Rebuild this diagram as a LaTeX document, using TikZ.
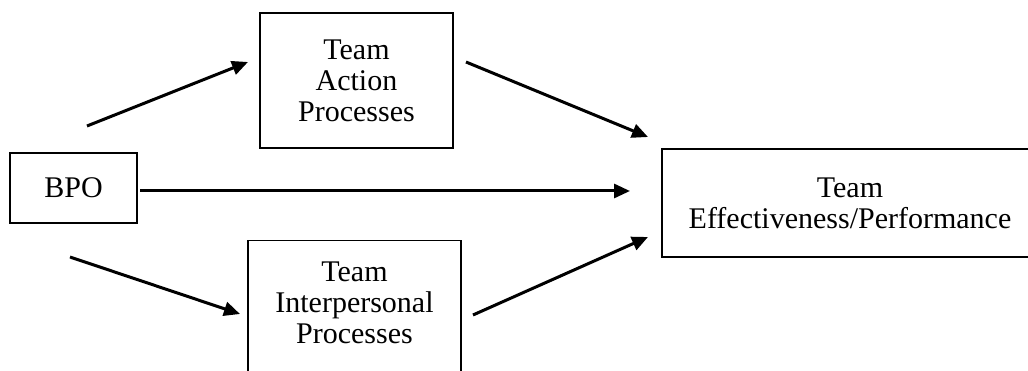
\documentclass[tikz,border=0pt]{standalone}
\usepackage{fontspec}
\setmainfont{Liberation Serif}
\usetikzlibrary{arrows.meta}
\tikzset{
  boxnode/.style={draw, line width=1.5pt, inner sep=0pt, align=center,
    font=\fontsize{30}{31}\selectfont},
  txtnode/.style={inner sep=0pt, align=center, font=\fontsize{30}{31}\selectfont},
  arr/.style={line width=3pt, -{Triangle[length=16pt,width=14pt]}}
}
\begin{document}
\begin{tikzpicture}[x=1pt,y=-1pt]
\useasboundingbox (0,0) rectangle (1028,371);
\node[boxnode, minimum width=127pt, minimum height=70pt] (bpo) at (73.5,188) {BPO};
\node[boxnode, minimum width=193pt, minimum height=135pt] (act) at (356.5,80.5) {Team\\Action\\Processes};
\node[boxnode, minimum width=213pt, minimum height=160pt, anchor=north] (ipbox) at (354.5,240) {};
\node[txtnode] (iptext) at (354.5,302.5) {Team\\Interpersonal\\Processes};
\node[boxnode, minimum width=376pt, minimum height=108pt] (eff) at (850,203) {Team\\Effectiveness/Performance};
\coordinate (a1s) at (87,126);
\coordinate (a1e) at (248,62);
\coordinate (a2s) at (466,62);
\coordinate (a2e) at (648,137);
\coordinate (a3s) at (140,191);
\coordinate (a3e) at (630,191);
\coordinate (a4s) at (70,257);
\coordinate (a4e) at (240,314);
\coordinate (a5s) at (473,315);
\coordinate (a5e) at (648,237);
\draw[arr] (a1s) -- (a1e);
\draw[arr] (a2s) -- (a2e);
\draw[arr] (a3s) -- (a3e);
\draw[arr] (a4s) -- (a4e);
\draw[arr] (a5s) -- (a5e);
\end{tikzpicture}
\end{document}
